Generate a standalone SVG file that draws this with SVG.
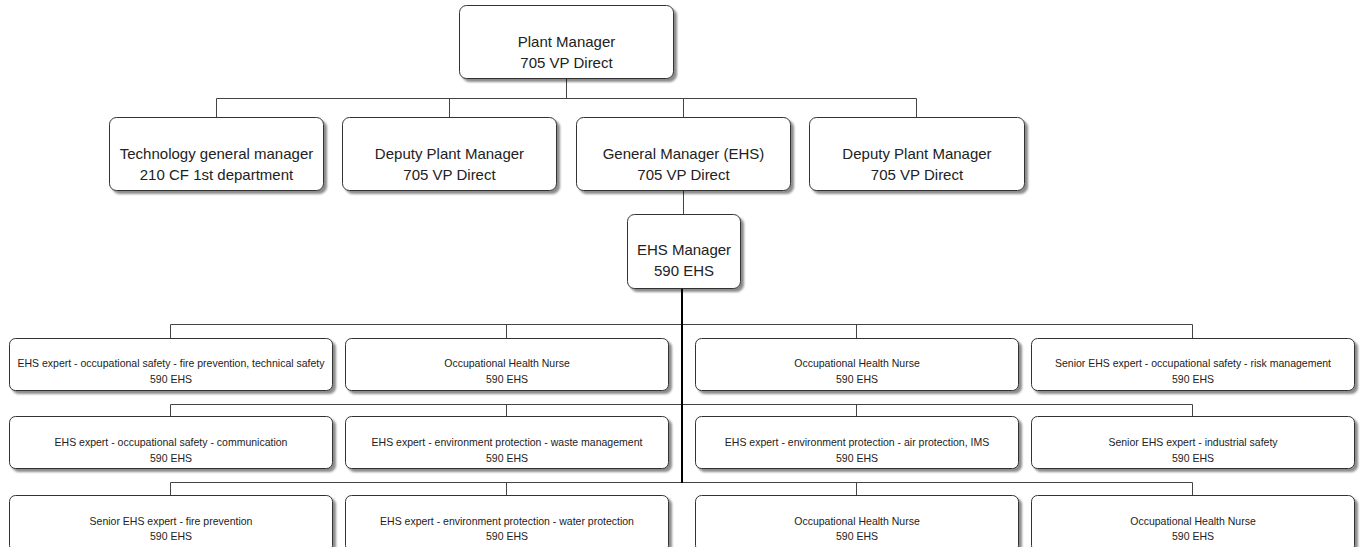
<svg xmlns="http://www.w3.org/2000/svg" width="1361" height="547" viewBox="0 0 1361 547">
<defs>
<filter id="sh" x="-5%" y="-5%" width="115%" height="130%">
<feDropShadow dx="3" dy="3" stdDeviation="1" flood-color="#000" flood-opacity="0.45"/>
</filter>
</defs>
<style>
.b{fill:#fff;stroke:#333;stroke-width:1;filter:url(#sh)}
.t1{font-family:"Liberation Sans",Arial,sans-serif;font-size:15px;fill:#222;text-anchor:middle}
.t2{font-family:"Liberation Sans",Arial,sans-serif;font-size:10.5px;fill:#222;text-anchor:middle}
.c{stroke:#444;stroke-width:1;fill:none}
.k{stroke:#000;stroke-width:2;fill:none}
</style>
<rect width="1361" height="547" fill="#fff"/>
<g id="connectors">
<path class="c" d="M566.5 78V98.5M216.5 98.5H916.5M216.5 98.5V117M449.5 98.5V117M683.5 98.5V117M916.5 98.5V117"/>
<path class="c" d="M683.5 190V214"/>
<path class="c" d="M170.5 324.5H1192.5M170.5 324.5V338M506.5 324.5V338M856.5 324.5V338M1192.5 324.5V338"/>
<path class="c" d="M170.5 404.5H1192.5M170.5 404.5V416M506.5 404.5V416M856.5 404.5V416M1192.5 404.5V416"/>
<path class="c" d="M170.5 482.5H1192.5M170.5 482.5V495M506.5 482.5V495M856.5 482.5V495M1192.5 482.5V495"/>
<path class="k" d="M682 288V483"/>
</g>
<g id="plant-manager"><rect class="b" x="459.5" y="5.5" width="214" height="73" rx="7"/><text class="t1" x="566.5" y="47">Plant Manager</text><text class="t1" x="566.5" y="68">705 VP Direct</text></g>
<g id="tech-gm"><rect class="b" x="109.5" y="117.5" width="214" height="73" rx="7"/><text class="t1" x="216.5" y="159">Technology general manager</text><text class="t1" x="216.5" y="180">210 CF 1st department</text></g>
<g id="deputy-1"><rect class="b" x="342.5" y="117.5" width="214" height="73" rx="7"/><text class="t1" x="449.5" y="159">Deputy Plant Manager</text><text class="t1" x="449.5" y="180">705 VP Direct</text></g>
<g id="gm-ehs"><rect class="b" x="576.5" y="117.5" width="214" height="73" rx="7"/><text class="t1" x="683.5" y="159">General Manager (EHS)</text><text class="t1" x="683.5" y="180">705 VP Direct</text></g>
<g id="deputy-2"><rect class="b" x="809.5" y="117.5" width="215" height="73" rx="7"/><text class="t1" x="917" y="159">Deputy Plant Manager</text><text class="t1" x="917" y="180">705 VP Direct</text></g>
<g id="ehs-manager"><rect class="b" x="627.5" y="214.5" width="113" height="74" rx="7"/><text class="t1" x="684" y="255">EHS Manager</text><text class="t1" x="684" y="276">590 EHS</text></g>

<g id="r1c1"><rect class="b" x="9.5" y="338.5" width="323" height="52" rx="6"/><text class="t2" x="171" y="367">EHS expert - occupational safety - fire prevention, technical safety</text><text class="t2" x="171" y="383">590 EHS</text></g>
<g id="r1c2"><rect class="b" x="345.5" y="338.5" width="323" height="52" rx="6"/><text class="t2" x="507" y="367">Occupational Health Nurse</text><text class="t2" x="507" y="383">590 EHS</text></g>
<g id="r1c3"><rect class="b" x="695.5" y="338.5" width="323" height="52" rx="6"/><text class="t2" x="857" y="367">Occupational Health Nurse</text><text class="t2" x="857" y="383">590 EHS</text></g>
<g id="r1c4"><rect class="b" x="1031.5" y="338.5" width="323" height="52" rx="6"/><text class="t2" x="1193" y="367">Senior EHS expert - occupational safety - risk management</text><text class="t2" x="1193" y="383">590 EHS</text></g>

<g id="r2c1"><rect class="b" x="9.5" y="416.5" width="323" height="52" rx="6"/><text class="t2" x="171" y="446">EHS expert - occupational safety - communication</text><text class="t2" x="171" y="462">590 EHS</text></g>
<g id="r2c2"><rect class="b" x="345.5" y="416.5" width="323" height="52" rx="6"/><text class="t2" x="507" y="446">EHS expert - environment protection - waste management</text><text class="t2" x="507" y="462">590 EHS</text></g>
<g id="r2c3"><rect class="b" x="695.5" y="416.5" width="323" height="52" rx="6"/><text class="t2" x="857" y="446">EHS expert - environment protection - air protection, IMS</text><text class="t2" x="857" y="462">590 EHS</text></g>
<g id="r2c4"><rect class="b" x="1031.5" y="416.5" width="323" height="52" rx="6"/><text class="t2" x="1193" y="446">Senior EHS expert - industrial safety</text><text class="t2" x="1193" y="462">590 EHS</text></g>

<g id="r3c1"><rect class="b" x="9.5" y="495.5" width="323" height="56" rx="6"/><text class="t2" x="171" y="525">Senior EHS expert - fire prevention</text><text class="t2" x="171" y="540">590 EHS</text></g>
<g id="r3c2"><rect class="b" x="345.5" y="495.5" width="323" height="56" rx="6"/><text class="t2" x="507" y="525">EHS expert - environment protection - water protection</text><text class="t2" x="507" y="540">590 EHS</text></g>
<g id="r3c3"><rect class="b" x="695.5" y="495.5" width="323" height="56" rx="6"/><text class="t2" x="857" y="525">Occupational Health Nurse</text><text class="t2" x="857" y="540">590 EHS</text></g>
<g id="r3c4"><rect class="b" x="1031.5" y="495.5" width="323" height="56" rx="6"/><text class="t2" x="1193" y="525">Occupational Health Nurse</text><text class="t2" x="1193" y="540">590 EHS</text></g>
</svg>
